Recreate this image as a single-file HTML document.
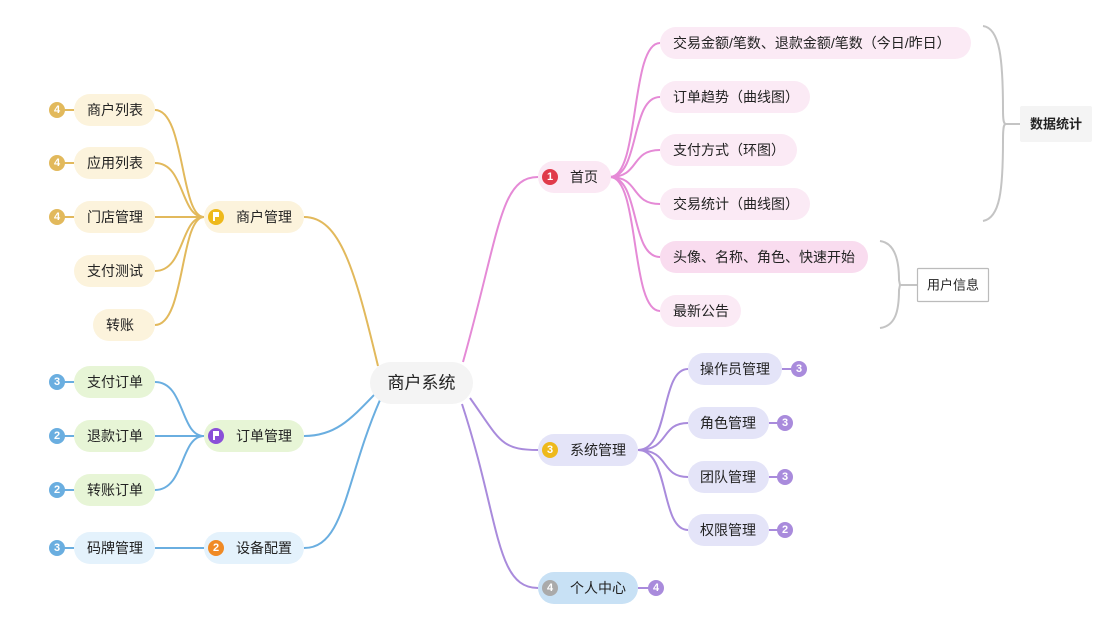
<!DOCTYPE html>
<html><head><meta charset="utf-8"><style>
html,body{margin:0;padding:0;background:#fff;}
svg{display:block;font-family:"Liberation Sans","Noto Sans CJK SC",sans-serif;}
text{font-size:14px;fill:#222;dominant-baseline:central;}
.b{font-size:11px;fill:#fff;text-anchor:middle;font-weight:bold;}
</style></head><body>
<svg width="1110" height="630" viewBox="0 0 1110 630" xmlns="http://www.w3.org/2000/svg">
<g fill="none" stroke-width="2">
<g stroke="#e2b95c">
<path d="M378,366 C355,270 340,217 304,217"/>
<path d="M155,110 C185,110 180,217 204,217"/>
<path d="M155,163 C185,163 180,217 204,217"/>
<path d="M155,217 L204,217"/>
<path d="M155,271 C185,271 180,217 204,217"/>
<path d="M155,325 C185,325 180,217 204,217"/>
<path d="M57,110 H74 M57,163 H74 M57,217 H74"/>
</g>
<g stroke="#6aaee0">
<path d="M375,394 C350,420 335,436 304,436"/>
<path d="M380,400 C345,480 345,548 304,548"/>
<path d="M155,382 C185,382 180,436 204,436"/>
<path d="M155,436 L204,436"/>
<path d="M155,490 C185,490 180,436 204,436"/>
<path d="M155,548 L204,548"/>
<path d="M57,382 H74 M57,436 H74 M57,490 H74 M57,548 H74"/>
</g>
<g stroke="#e58ad6">
<path d="M463,362 C500,230 500,177 538,177"/>
<path d="M610,177 C640,177 630,43 660,43"/>
<path d="M610,177 C640,177 630,97 660,97"/>
<path d="M610,177 C640,177 630,150 660,150"/>
<path d="M610,177 C640,177 630,204 660,204"/>
<path d="M610,177 C640,177 630,257 660,257"/>
<path d="M610,177 C640,177 630,311 660,311"/>
</g>
<g stroke="#a98bdc">
<path d="M470,398 C500,440 500,450 538,450"/>
<path d="M462,404 C500,520 495,588 538,588"/>
<path d="M638,450 C670,450 660,369 688,369"/>
<path d="M638,450 C670,450 660,423 688,423"/>
<path d="M638,450 C670,450 660,477 688,477"/>
<path d="M638,450 C670,450 660,530 688,530"/>
<path d="M782,369 H799 M769,423 H785 M769,477 H785 M769,530 H785 M638,588 H656"/>
</g>
<g stroke="#c4c4c4">
<path d="M983,26 C1000,28 1003,60 1003,110 C1003,122 1004,124 1006,124 C1004,124 1003,126 1003,140 C1003,190 1000,218 983,221"/>
<path d="M1006,124 H1020"/>
<path d="M880,241 C895,243 899,260 899,280 L900,285 L899,290 C899,312 895,326 880,328"/>
<path d="M900,285 H917"/>
</g>
</g>
<rect x="370" y="362" width="103" height="42" rx="21" fill="#f4f4f4"/>
<text x="421.5" y="383" text-anchor="middle" style="font-size:17px">商户系统</text>
<g>
<rect x="204" y="201" width="100" height="32" rx="16" fill="#fcf3dc"/>
<circle cx="216" cy="217" r="8" fill="#eeb91c"/><path d="M213,212 h6 v5 h-4 v4 h-2 z" fill="#fff"/><text x="236" y="217">商户管理</text>
<rect x="74" y="94" width="81" height="32" rx="16" fill="#fcf3dc"/><text x="87" y="110">商户列表</text>
<rect x="74" y="147" width="81" height="32" rx="16" fill="#fcf3dc"/><text x="87" y="163">应用列表</text>
<rect x="74" y="201" width="81" height="32" rx="16" fill="#fcf3dc"/><text x="87" y="217">门店管理</text>
<rect x="74" y="255" width="81" height="32" rx="16" fill="#fcf3dc"/><text x="87" y="271">支付测试</text>
<rect x="93" y="309" width="62" height="32" rx="16" fill="#fcf3dc"/><text x="106" y="325">转账</text>
<circle cx="57" cy="110" r="8" fill="#e2b95c"/><text class="b" x="57" y="110">4</text>
<circle cx="57" cy="163" r="8" fill="#e2b95c"/><text class="b" x="57" y="163">4</text>
<circle cx="57" cy="217" r="8" fill="#e2b95c"/><text class="b" x="57" y="217">4</text>

<rect x="204" y="420" width="100" height="32" rx="16" fill="#e7f5d6"/>
<circle cx="216" cy="436" r="8" fill="#8a4fd8"/><path d="M213,431 h6 v5 h-4 v4 h-2 z" fill="#fff"/><text x="236" y="436">订单管理</text>
<rect x="74" y="366" width="81" height="32" rx="16" fill="#e7f5d6"/><text x="87" y="382">支付订单</text>
<rect x="74" y="420" width="81" height="32" rx="16" fill="#e7f5d6"/><text x="87" y="436">退款订单</text>
<rect x="74" y="474" width="81" height="32" rx="16" fill="#e7f5d6"/><text x="87" y="490">转账订单</text>
<circle cx="57" cy="382" r="8" fill="#6aaee0"/><text class="b" x="57" y="382">3</text>
<circle cx="57" cy="436" r="8" fill="#6aaee0"/><text class="b" x="57" y="436">2</text>
<circle cx="57" cy="490" r="8" fill="#6aaee0"/><text class="b" x="57" y="490">2</text>

<rect x="204" y="532" width="100" height="32" rx="16" fill="#e4f2fc"/>
<circle cx="216" cy="548" r="8" fill="#f08a25"/><text class="b" x="216" y="548">2</text><text x="236" y="548">设备配置</text>
<rect x="74" y="532" width="81" height="32" rx="16" fill="#e4f2fc"/><text x="87" y="548">码牌管理</text>
<circle cx="57" cy="548" r="8" fill="#6aaee0"/><text class="b" x="57" y="548">3</text>
</g>
<g>
<rect x="538" y="161" width="73" height="32" rx="16" fill="#fbe8f4"/>
<circle cx="550" cy="177" r="8" fill="#e03a4a"/><text class="b" x="550" y="177">1</text><text x="570" y="177">首页</text>
<rect x="660" y="27" width="311" height="32" rx="16" fill="#fbeaf5"/><text x="673" y="43">交易金额/笔数、退款金额/笔数（今日/昨日）</text>
<rect x="660" y="81" width="150" height="32" rx="16" fill="#fbeaf5"/><text x="673" y="97">订单趋势（曲线图）</text>
<rect x="660" y="134" width="137" height="32" rx="16" fill="#fbeaf5"/><text x="673" y="150">支付方式（环图）</text>
<rect x="660" y="188" width="150" height="32" rx="16" fill="#fbeaf5"/><text x="673" y="204">交易统计（曲线图）</text>
<rect x="660" y="241" width="208" height="32" rx="16" fill="#f9dcef"/><text x="673" y="257">头像、名称、角色、快速开始</text>
<rect x="660" y="295" width="81" height="32" rx="16" fill="#fbeaf5"/><text x="673" y="311">最新公告</text>

<rect x="1020" y="106" width="72" height="36" rx="2" fill="#f4f4f4"/>
<text x="1056" y="124" text-anchor="middle" font-weight="bold" style="font-size:13px">数据统计</text>
<rect x="917.5" y="268.5" width="71" height="33" rx="1" fill="#fff" stroke="#bbb" stroke-width="1.2"/>
<text x="953" y="285" text-anchor="middle" style="font-size:13px">用户信息</text>

<rect x="538" y="434" width="100" height="32" rx="16" fill="#e4e4f8"/>
<circle cx="550" cy="450" r="8" fill="#eeb91c"/><text class="b" x="550" y="450">3</text><text x="570" y="450">系统管理</text>
<rect x="688" y="353" width="94" height="32" rx="16" fill="#e4e4f8"/><text x="700" y="369">操作员管理</text>
<rect x="688" y="407" width="81" height="32" rx="16" fill="#e4e4f8"/><text x="700" y="423">角色管理</text>
<rect x="688" y="461" width="81" height="32" rx="16" fill="#e4e4f8"/><text x="700" y="477">团队管理</text>
<rect x="688" y="514" width="81" height="32" rx="16" fill="#e4e4f8"/><text x="700" y="530">权限管理</text>
<circle cx="799" cy="369" r="8" fill="#a98bdc"/><text class="b" x="799" y="369">3</text>
<circle cx="785" cy="423" r="8" fill="#a98bdc"/><text class="b" x="785" y="423">3</text>
<circle cx="785" cy="477" r="8" fill="#a98bdc"/><text class="b" x="785" y="477">3</text>
<circle cx="785" cy="530" r="8" fill="#a98bdc"/><text class="b" x="785" y="530">2</text>

<rect x="538" y="572" width="100" height="32" rx="16" fill="#c8e1f5"/>
<circle cx="550" cy="588" r="8" fill="#aaa"/><text class="b" x="550" y="588">4</text><text x="570" y="588">个人中心</text>
<circle cx="656" cy="588" r="8" fill="#a98bdc"/><text class="b" x="656" y="588">4</text>
</g>
</svg>
</body></html>
